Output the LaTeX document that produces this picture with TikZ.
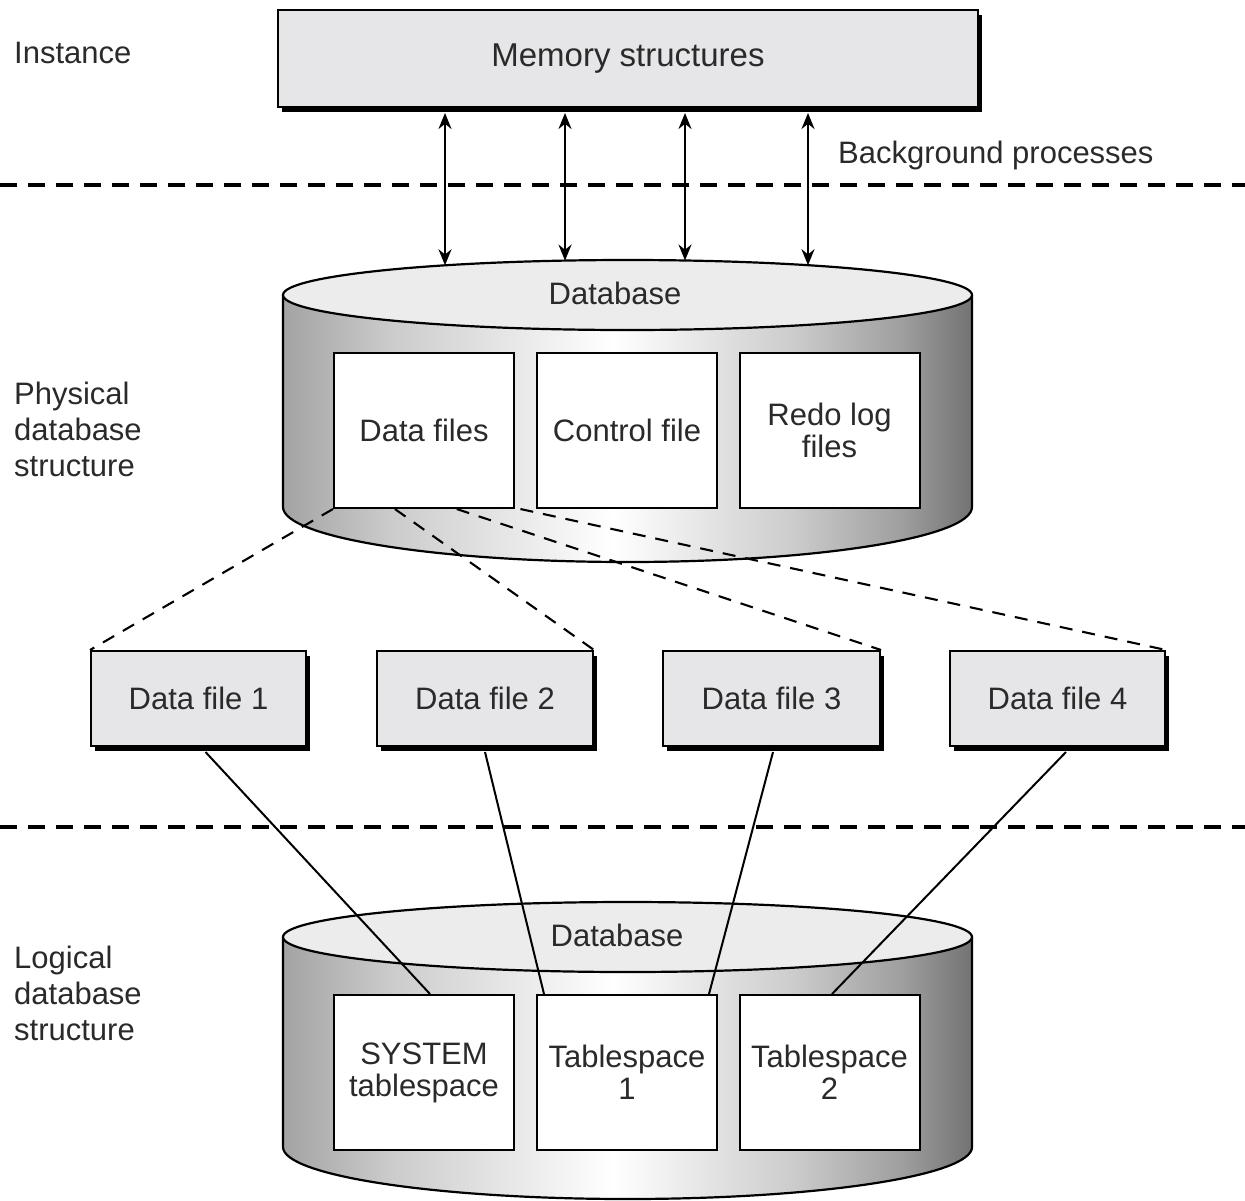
\documentclass[tikz,border=0pt]{standalone}
\usepackage{fontspec}
\setmainfont{Liberation Sans}
\usetikzlibrary{arrows.meta,shadows,calc}

\definecolor{boxgray}{HTML}{E6E6E8}
\definecolor{lidgray}{HTML}{ECECEC}
\definecolor{ink}{HTML}{2A2A2A}

% side of a cylinder: grey at the rims, white towards the middle
\pgfdeclarehorizontalshading{cylside}{100bp}{%
  color(0bp)=(black!36); color(25bp)=(black!36); color(33bp)=(black!20);
  color(49bp)=(white); color(62bp)=(black!20); color(70bp)=(black!38);
  color(75bp)=(black!55); color(100bp)=(black!55)}

\tikzset{
  txt/.style={font=\fontsize{31}{34}\selectfont, text=ink, inner sep=0pt},
  sidelabel/.style={txt, anchor=west, align=left, font=\fontsize{31}{36}\selectfont},
  shadowbox/.style={txt, draw=black, line width=2pt, fill=boxgray,
    general shadow={shadow xshift=4pt, shadow yshift=-4.5pt, fill=black}},
  filebox/.style={txt, draw=black, line width=2pt, fill=white, align=center,
    minimum width=180pt, minimum height=155pt},
  separator/.style={line width=4pt, dash pattern=on 17pt off 11pt},
  twoway/.style={line width=2.3pt, {Stealth[length=16pt,width=13pt]}-{Stealth[length=16pt,width=13pt]}},
  maplink/.style={line width=2.1pt, dash pattern=on 13pt off 10pt},
  tie/.style={line width=2pt},
  rim/.style={line width=2.2pt}
}

\begin{document}
\begin{tikzpicture}[x=1pt,y=-1pt]
\useasboundingbox (0,0) rectangle (1245,1200);

% layer separators
\draw[separator] (0,185) -- (1245,185);
\draw[separator] (0,827) -- (1245,827);

% side labels
\node[sidelabel] (instance) at (14,53) {Instance};
\node[sidelabel] (bgproc) at (838,155) {Background processes};
\node[sidelabel] (physical) at (14,429) {Physical\\database\\structure};
\node[sidelabel] (logical) at (14,993) {Logical\\database\\structure};

% instance
\node[shadowbox, minimum width=700pt, minimum height=97pt,
      font=\fontsize{33}{36}\selectfont] (mem) at (628,58.5) {Memory structures};

% ---------------- physical database cylinder ----------------
\shade[shading=cylside] (283,295) -- (283,507)
  arc[start angle=180, end angle=360, x radius=344.5pt, y radius=55pt]
  -- (972,295) -- cycle;
\draw[rim] (283,295) -- (283,507)
  arc[start angle=180, end angle=360, x radius=344.5pt, y radius=55pt]
  -- (972,295);
\draw[rim, fill=lidgray] (627.5,295) ellipse [x radius=344.5pt, y radius=35pt];
\node[txt] (physdb) at (615,293) {Database};

\node[filebox] (dfiles) at (424,430.5) {Data files};
\node[filebox] (ctl) at (627,430.5) {Control file};
\node[filebox] (redo) at (829.5,430.5) {Redo log\\[-2pt]files};

% background processes between memory and database
\coordinate (m1) at (445,113); \coordinate (d1) at (445,265.3);
\coordinate (m2) at (565,113); \coordinate (d2) at (565,260.6);
\coordinate (m3) at (685,113); \coordinate (d3) at (685,260.5);
\coordinate (m4) at (808,113); \coordinate (d4) at (808,265.2);
\draw[twoway] (m1) -- (d1);
\draw[twoway] (m2) -- (d2);
\draw[twoway] (m3) -- (d3);
\draw[twoway] (m4) -- (d4);

% individual data files
\node[shadowbox, minimum width=215pt, minimum height=95pt] (df1) at (198.5,698.5) {Data file 1};
\node[shadowbox, minimum width=216pt, minimum height=95pt] (df2) at (485,698.5) {Data file 2};
\node[shadowbox, minimum width=217pt, minimum height=95pt] (df3) at (771.5,698.5) {Data file 3};
\node[shadowbox, minimum width=215pt, minimum height=95pt] (df4) at (1057.5,698.5) {Data file 4};

\draw[maplink] (dfiles.south west) -- (df1.north west);
\draw[maplink] ($(dfiles.south west)!0.34!(dfiles.south east)$) -- (df2.north east);
\draw[maplink] ($(dfiles.south west)!0.68!(dfiles.south east)$) -- (df3.north east);
\draw[maplink] ($(dfiles.south west)!1.03!(dfiles.south east)$) -- (df4.north east);

% ---------------- logical database cylinder ----------------
\shade[shading=cylside] (283,937) -- (283,1147)
  arc[start angle=180, end angle=360, x radius=344.5pt, y radius=52pt]
  -- (972,937) -- cycle;
\draw[rim] (283,937) -- (283,1147)
  arc[start angle=180, end angle=360, x radius=344.5pt, y radius=52pt]
  -- (972,937);
\draw[rim, fill=lidgray] (627.5,937) ellipse [x radius=344.5pt, y radius=35pt];
\node[txt] (logdb) at (617,935) {Database};

\node[filebox] (sys) at (424,1072.5) {SYSTEM\\[-2pt]tablespace};
\node[filebox] (ts1) at (627,1072.5) {Tablespace\\[-2pt]1};
\node[filebox] (ts2) at (829.5,1072.5) {Tablespace\\[-2pt]2};

% data files belong to tablespaces
\draw[tie] ([xshift=7pt,yshift=-5pt]df1.south) -- ([xshift=6pt]sys.north);
\draw[tie] ([yshift=-5pt]df2.south) -- ([xshift=8pt]ts1.north west);
\draw[tie] ([xshift=1.5pt,yshift=-5pt]df3.south) -- ([xshift=-9pt]ts1.north east);
\draw[tie] ([xshift=8.5pt,yshift=-5pt]df4.south) -- ([xshift=2.5pt]ts2.north);
\end{tikzpicture}
\end{document}
